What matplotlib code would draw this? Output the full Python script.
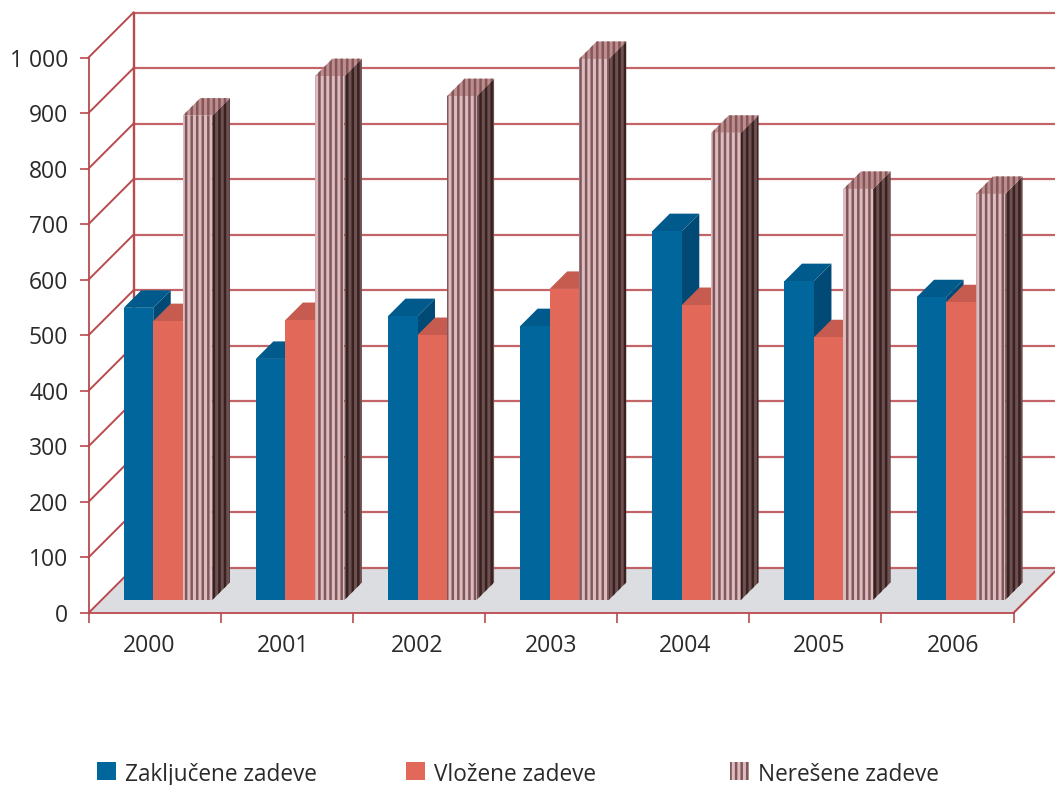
import matplotlib
matplotlib.use('Agg')
import matplotlib.pyplot as plt
from matplotlib.patches import Rectangle
from matplotlib.transforms import ScaledTranslation

plt.rcParams['font.family'] = ['Open Sans', 'DejaVu Sans']
plt.rcParams['hatch.linewidth'] = 1.8

years = ['2000', '2001', '2002', '2003', '2004', '2005', '2006']
zakljucene = [526, 434, 511, 493, 664, 574, 545]
vlozene = [502, 504, 477, 560, 531, 473, 536]
neresene = [872, 943, 907, 974, 841, 740, 731]
yticks = [0, 100, 200, 300, 400, 500, 600, 700, 800, 900, 1000]
ylabels = ['0', '100', '200', '300', '400', '500', '600', '700', '800', '900', '1 000']

W, H = 1055, 785
RED = '#b94a4e'
TXT = '#2b2a29'

# pixels of one category / one value unit on the front plane
px_x = (1013.5 - 88.5) / 7
px_y = (613 - 57.5) / 1000


def proj(x, v, d):
    # oblique projection, d = depth in pixels
    return x + d / px_x, v + d / px_y


fig = plt.figure(figsize=(W / 100, H / 100), dpi=100)
ax = fig.add_axes([88.5 / W, 1 - 613 / H, 925 / W, 555.5 / H])
ax.set_xlim(0, 7)
ax.set_ylim(0, 1000)
ax.patch.set_visible(False)

# floor
fx, fy = zip(proj(0, 0, 0), proj(7, 0, 0), proj(7, 0, 45), proj(0, 0, 45))
ax.fill(fx, fy, color='#dcdde0', lw=0, clip_on=False, zorder=1)

# walls
for v in yticks:
    x0, y0 = proj(0, v, 0)
    x1, y1 = proj(0, v, 45)
    ax.plot([x0, x1], [y0, y1], color=RED, lw=1.4, clip_on=False, zorder=2)
    x2, y2 = proj(7, v, 45)
    ax.plot([x1, x2], [y1, y2], color=RED, lw=1.6, alpha=0.85, clip_on=False, zorder=2)
x0, y0 = proj(0, 0, 45)
x1, y1 = proj(0, 1000, 45)
ax.plot([x0, x1], [y0, y1], color=RED, lw=1.7, clip_on=False, zorder=2)
x0, y0 = proj(7, 0, 0)
x1, y1 = proj(7, 0, 45)
ax.plot([x0, x1], [y0, y1], color=RED, lw=1.5, clip_on=False, zorder=2)

# bars
bw = 0.2235
gap = 0.168
d0, d1 = 13, 30.5
series = [
    (zakljucene, 0, '#00669c', '#005a8c', '#004a75', None, None),
    (vlozene, 1, '#e2695a', '#c65b50', '#c65b50', None, None),
    (neresene, 2, '#dcbcbe', '#c08c8c', '#6e5052', '#80575b', '#38221f'),
]
z = 3
for i in range(len(years)):
    for vals, k, cf, ct, cs, hc, hs in series:
        v = vals[i]
        a = i + gap + k * bw
        b = a + bw
        if hc:
            kw = dict(hatch='|||', edgecolor=hc, lw=0, clip_on=False, zorder=z)
            kw_s = dict(hatch='|||', edgecolor=hs, lw=0, clip_on=False, zorder=z)
        else:
            kw = kw_s = dict(lw=0, clip_on=False, zorder=z)
        # side
        pts = [proj(b, 0, d0), proj(b, 0, d1), proj(b, v, d1), proj(b, v, d0)]
        ax.fill(*zip(*pts), facecolor=cs, **kw_s)
        # top
        pts = [proj(a, v, d0), proj(b, v, d0), proj(b, v, d1), proj(a, v, d1)]
        ax.fill(*zip(*pts), facecolor=ct, **kw)
        # front
        pts = [proj(a, 0, d0), proj(b, 0, d0), proj(b, v, d0), proj(a, v, d0)]
        ax.fill(*zip(*pts), facecolor=cf, **kw)
        z += 1

# axes
for s in ['top', 'right']:
    ax.spines[s].set_visible(False)
for s in ['left', 'bottom']:
    ax.spines[s].set_color(RED)
    ax.spines[s].set_linewidth(1.3)
    ax.spines[s].set_zorder(50)
ax.set_yticks(yticks)
ax.set_yticklabels(ylabels)
ax.tick_params(axis='y', length=6.5, width=1.2, color=RED, pad=8, labelsize=16.5, labelcolor=TXT)
for lab in ax.get_yticklabels():
    lab.set_verticalalignment('center')
    lab.set_transform(lab.get_transform() + ScaledTranslation(0, -3 / 100, fig.dpi_scale_trans))
# year labels sit slightly apart from the category centres in the source
ax.set_xticks([0.46 + 1.014 * i for i in range(7)])
ax.set_xticklabels(years)
ax.tick_params(axis='x', which='major', length=0, pad=15, labelsize=16.5, labelcolor=TXT)
ax.set_xticks(range(8), minor=True)
ax.tick_params(axis='x', which='minor', length=7, width=1.2, color=RED)

# legend
names = ['Zaključene zadeve', 'Vložene zadeve', 'Nerešene zadeve']
sw_x = [97, 406, 730]
sw_c = ['#00669c', '#e2695a', '#dcbcbe']
for n, sx, c in zip(names, sw_x, sw_c):
    hatch = '|||' if n.startswith('Ner') else None
    r = Rectangle((sx / W, 1 - 780 / H), 19 / W, 18 / H, transform=fig.transFigure,
                  facecolor=c, edgecolor='#80575b' if hatch else c, hatch=hatch, lw=0)
    fig.add_artist(r)
    fig.text((sx + 28) / W, 1 - 775 / H, n, fontsize=16.3, color=TXT, va='center')

fig.savefig('out.png', dpi=100)
